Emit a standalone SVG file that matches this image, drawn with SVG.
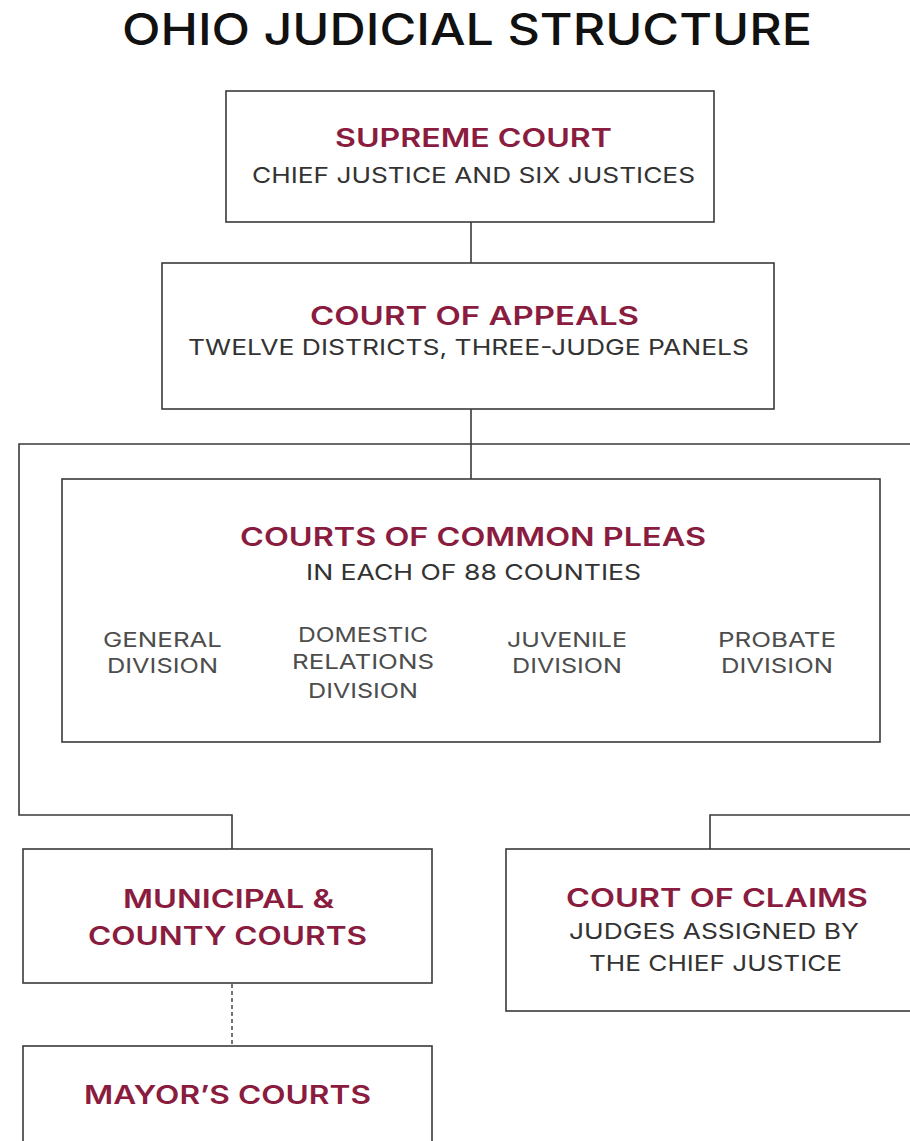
<svg xmlns="http://www.w3.org/2000/svg" width="910" height="1141" viewBox="0 0 910 1141">
<style>
.bg{fill:#ffffff}
.box{fill:#ffffff;stroke:#3a3a3a;stroke-width:1.6}
.ln{fill:none;stroke:#3a3a3a;stroke-width:1.6}
.dot{fill:none;stroke:#3a3a3a;stroke-width:1.4;stroke-dasharray:4 3}
text{font-family:"Inter","Liberation Sans","DejaVu Sans",sans-serif;text-anchor:middle}
.title{font-size:44px;font-weight:500;fill:#111111}
.h{font-size:25px;font-weight:600;fill:#8a1c40}
.s{font-size:22px;font-weight:400;fill:#333333}
.d{font-size:20px;font-weight:400;fill:#4d4d4d}
</style>
<rect class="bg" x="0" y="0" width="910" height="1141"/>
<g id="title"><text class="title" x="467" y="45" textLength="690" lengthAdjust="spacingAndGlyphs">OHIO JUDICIAL STRUCTURE</text></g>
<g id="connectors">
<line class="ln" x1="471" y1="222" x2="471" y2="263"/>
<line class="ln" x1="471" y1="409" x2="471" y2="479"/>
<path class="ln" d="M915,444 H19 V815 H232 V849"/>
<path class="ln" d="M915,815 H710 V849"/>
<line class="dot" x1="232" y1="984" x2="232" y2="1046"/>
</g>
<g id="supreme-court">
<rect class="box" x="226" y="91" width="488" height="131"/>
<text class="h" x="473.5" y="147" textLength="277" lengthAdjust="spacingAndGlyphs">SUPREME COURT</text>
<text class="s" x="473.5" y="183" textLength="443" lengthAdjust="spacingAndGlyphs">CHIEF JUSTICE AND SIX JUSTICES</text>
</g>
<g id="court-of-appeals">
<rect class="box" x="162" y="263" width="612" height="146"/>
<text class="h" x="474.5" y="325" textLength="329" lengthAdjust="spacingAndGlyphs">COURT OF APPEALS</text>
<text class="s" x="468.5" y="355" textLength="561" lengthAdjust="spacingAndGlyphs">TWELVE DISTRICTS, THREE-JUDGE PANELS</text>
</g>
<g id="common-pleas">
<rect class="box" x="62" y="479" width="818" height="263"/>
<text class="h" x="473" y="546" textLength="466" lengthAdjust="spacingAndGlyphs">COURTS OF COMMON PLEAS</text>
<text class="s" x="473.5" y="580" textLength="335" lengthAdjust="spacingAndGlyphs">IN EACH OF 88 COUNTIES</text>
<text class="d" x="162.5" y="647" textLength="119" lengthAdjust="spacingAndGlyphs">GENERAL</text>
<text class="d" x="162.5" y="673" textLength="111" lengthAdjust="spacingAndGlyphs">DIVISION</text>
<text class="d" x="363" y="642" textLength="130" lengthAdjust="spacingAndGlyphs">DOMESTIC</text>
<text class="d" x="363" y="669" textLength="142" lengthAdjust="spacingAndGlyphs">RELATIONS</text>
<text class="d" x="363" y="698" textLength="110" lengthAdjust="spacingAndGlyphs">DIVISION</text>
<text class="d" x="567" y="647" textLength="120" lengthAdjust="spacingAndGlyphs">JUVENILE</text>
<text class="d" x="567" y="673" textLength="110" lengthAdjust="spacingAndGlyphs">DIVISION</text>
<text class="d" x="777" y="647" textLength="118" lengthAdjust="spacingAndGlyphs">PROBATE</text>
<text class="d" x="777" y="673" textLength="112" lengthAdjust="spacingAndGlyphs">DIVISION</text>
</g>
<g id="municipal-county">
<rect class="box" x="23" y="849" width="409" height="134"/>
<text class="h" x="228.5" y="908" textLength="211" lengthAdjust="spacingAndGlyphs">MUNICIPAL &amp;</text>
<text class="h" x="227.5" y="945" textLength="279" lengthAdjust="spacingAndGlyphs">COUNTY COURTS</text>
</g>
<g id="court-of-claims">
<rect class="box" x="506" y="849" width="410" height="162"/>
<text class="h" x="717" y="907" textLength="302" lengthAdjust="spacingAndGlyphs">COURT OF CLAIMS</text>
<text class="s" x="714" y="939" textLength="290" lengthAdjust="spacingAndGlyphs">JUDGES ASSIGNED BY</text>
<text class="s" x="715.5" y="971" textLength="253" lengthAdjust="spacingAndGlyphs">THE CHIEF JUSTICE</text>
</g>
<g id="mayors-courts">
<rect class="box" x="23" y="1046" width="409" height="100"/>
<text class="h" x="227.5" y="1104" textLength="287" lengthAdjust="spacingAndGlyphs">MAYOR’S COURTS</text>
</g>
</svg>
